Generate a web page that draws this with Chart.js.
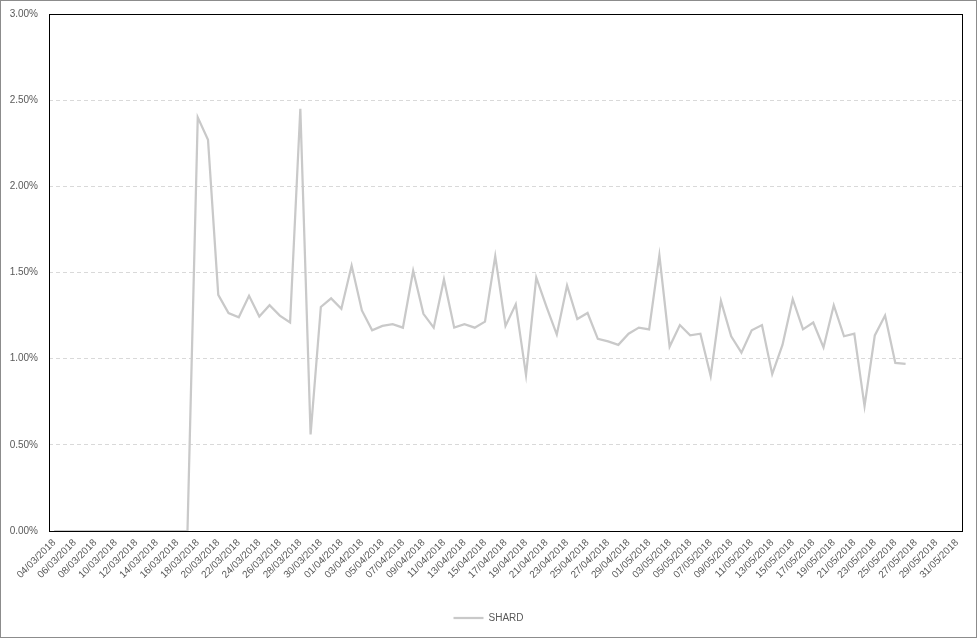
<!DOCTYPE html>
<html>
<head>
<meta charset="utf-8">
<script src="https://cdn.jsdelivr.net/npm/chart.js@4/dist/chart.umd.min.js"></script>
<style>
  html, body { margin: 0; padding: 0; background: #ffffff; }
  #wrap { width: 977px; height: 638px; position: relative; }
</style>
</head>
<body>
<div id="wrap"><canvas id="c" width="977" height="638"></canvas></div>
<script>
const dates = [
  "04/03/2018","05/03/2018","06/03/2018","07/03/2018","08/03/2018","09/03/2018","10/03/2018","11/03/2018",
  "12/03/2018","13/03/2018","14/03/2018","15/03/2018","16/03/2018","17/03/2018","18/03/2018","19/03/2018",
  "20/03/2018","21/03/2018","22/03/2018","23/03/2018","24/03/2018","25/03/2018","26/03/2018","27/03/2018",
  "28/03/2018","29/03/2018","30/03/2018","31/03/2018",
  "01/04/2018","02/04/2018","03/04/2018","04/04/2018","05/04/2018","06/04/2018","07/04/2018","08/04/2018",
  "09/04/2018","10/04/2018","11/04/2018","12/04/2018","13/04/2018","14/04/2018","15/04/2018","16/04/2018",
  "17/04/2018","18/04/2018","19/04/2018","20/04/2018","21/04/2018","22/04/2018","23/04/2018","24/04/2018",
  "25/04/2018","26/04/2018","27/04/2018","28/04/2018","29/04/2018","30/04/2018",
  "01/05/2018","02/05/2018","03/05/2018","04/05/2018","05/05/2018","06/05/2018","07/05/2018","08/05/2018",
  "09/05/2018","10/05/2018","11/05/2018","12/05/2018","13/05/2018","14/05/2018","15/05/2018","16/05/2018",
  "17/05/2018","18/05/2018","19/05/2018","20/05/2018","21/05/2018","22/05/2018","23/05/2018","24/05/2018",
  "25/05/2018","26/05/2018","27/05/2018","28/05/2018","29/05/2018","30/05/2018","31/05/2018"
];

// SHARD values in percent
const shard = [
  0, 0, 0, 0, 0, 0, 0, 0, 0, 0, 0, 0, 0, 0,
  2.40, 2.27, 1.37, 1.265, 1.24, 1.365, 1.245, 1.31, 1.25, 1.21,
  2.45, 0.56, 1.30, 1.35, 1.29, 1.54, 1.28, 1.165, 1.19, 1.20,
  1.18, 1.51, 1.26, 1.18, 1.46, 1.18, 1.20, 1.18, 1.215, 1.595,
  1.19, 1.315, 0.905, 1.47, 1.30, 1.14, 1.425, 1.23, 1.265, 1.115,
  1.10, 1.08, 1.145, 1.18, 1.17, 1.60, 1.07, 1.195, 1.135, 1.145,
  0.90, 1.335, 1.13, 1.035, 1.165, 1.195, 0.91, 1.08, 1.345, 1.17,
  1.21, 1.065, 1.31, 1.13, 1.145, 0.725, 1.135, 1.25, 0.975, 0.97,
  null, null, null, null, null
];

const yTicks = [0, 0.5, 1.0, 1.5, 2.0, 2.5, 3.0];
const seriesName = "SHARD";

const textColor = "#595959";
const fontFamily = "'Liberation Sans', Arial, sans-serif";

const framePlugin = {
  id: "frame",
  beforeDraw(chart) {
    const ctx = chart.ctx;
    ctx.save();
    ctx.fillStyle = "#ffffff";
    ctx.fillRect(0, 0, chart.width, chart.height);
    ctx.strokeStyle = "#8c8c8c";
    ctx.lineWidth = 1;
    ctx.strokeRect(0.5, 0.5, chart.width - 1, chart.height - 1);
    ctx.restore();
  },
  beforeDatasetsDraw(chart) {
    const ctx = chart.ctx;
    const a = chart.chartArea;
    ctx.save();
    ctx.strokeStyle = "#000000";
    ctx.lineWidth = 1;
    ctx.strokeRect(Math.round(a.left) + 0.5, Math.round(a.top) + 0.5,
                   Math.round(a.right - a.left), Math.round(a.bottom - a.top));
    ctx.restore();
  }
};

new Chart(document.getElementById("c"), {
  type: "line",
  data: {
    labels: dates,
    datasets: [{
      label: seriesName,
      data: shard,
      borderColor: "#c9c9c9",
      backgroundColor: "#c9c9c9",
      borderWidth: 2.25,
      pointRadius: 0,
      pointHoverRadius: 0,
      tension: 0,
      spanGaps: false,
      pointStyle: "line"
    }]
  },
  options: {
    responsive: false,
    animation: false,
    devicePixelRatio: 1,
    layout: { padding: { top: 14, right: 0, bottom: 5, left: 0 } },
    plugins: {
      legend: {
        position: "bottom",
        labels: {
          color: textColor,
          font: { family: fontFamily, size: 10 },
          usePointStyle: true,
          pointStyleWidth: 30,
          boxHeight: 2,
          padding: 10
        }
      },
      tooltip: { enabled: false }
    },
    scales: {
      x: {
        type: "category",
        offset: true,
        grid: { display: false, drawTicks: false },
        border: { display: false },
        afterFit(scale) { scale.height = 72; },
        ticks: {
          autoSkip: false,
          minRotation: 45,
          maxRotation: 45,
          padding: 6,
          color: textColor,
          font: { family: fontFamily, size: 10 },
          callback(value, index) { return index % 2 === 0 ? this.getLabelForValue(value) : null; }
        }
      },
      y: {
        min: yTicks[0],
        max: yTicks[yTicks.length - 1],
        afterFit(scale) { scale.width = 49; },
        afterBuildTicks(scale) { scale.ticks = yTicks.map(v => ({ value: v })); },
        border: { display: false, dash: [4, 3] },
        grid: {
          drawTicks: true,
          tickLength: 8,
          tickColor: "rgba(0,0,0,0)",
          color(ctx) {
            const v = ctx.tick ? ctx.tick.value : null;
            return (v === yTicks[0] || v === yTicks[yTicks.length - 1]) ? "rgba(0,0,0,0)" : "#d9d9d9";
          },
          lineWidth: 1
        },
        ticks: {
          padding: 3,
          color: textColor,
          font: { family: fontFamily, size: 10 },
          callback(v) { return Number(v).toFixed(2) + "%"; }
        }
      },
      ySpacer: {
        position: "right",
        min: 0,
        max: 1,
        afterFit(scale) { scale.width = 15; },
        grid: { display: false, drawTicks: false },
        border: { display: false },
        ticks: { display: false }
      }
    }
  },
  plugins: [framePlugin]
});
</script>
</body>
</html>
